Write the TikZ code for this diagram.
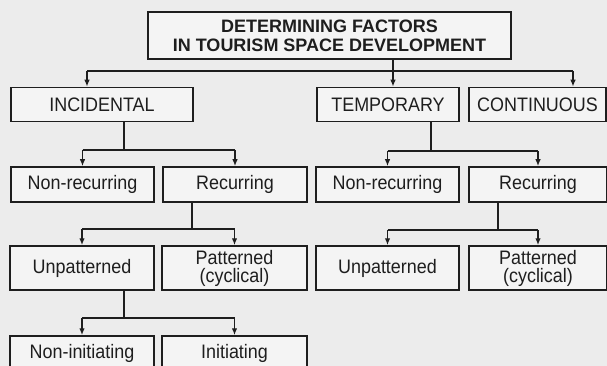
\documentclass[tikz,border=0pt]{standalone}
\usepackage{fontspec}
\setmainfont{Liberation Sans}
\newfontfamily\condfont[FakeStretch=0.92]{Liberation Sans}
\usetikzlibrary{arrows.meta}
\definecolor{bg}{HTML}{ECECEC}
\definecolor{boxfill}{HTML}{F4F4F4}
\definecolor{ink}{HTML}{1E1E1E}
\begin{document}
\begin{tikzpicture}[x=1pt,y=-1pt,
  box/.style={draw=ink, fill=boxfill, line width=1.5pt, inner sep=0pt, text=ink,
    font=\condfont\fontsize{19.5}{18}\selectfont, align=center},
  topbox/.style={box, font=\bfseries\fontsize{18}{19}\selectfont},
  conn/.style={draw=ink, line width=1.5pt},
  arr/.style={conn, -{Latex[length=7pt,width=5.5pt]}}]
\useasboundingbox (0,0) rectangle (607,366);
\fill[bg] (0,0) rectangle (607,366);

% top
\node[topbox, minimum width=363pt, minimum height=47pt] (top) at (329.5,35.5)
  {DETERMINING FACTORS\\IN TOURISM SPACE DEVELOPMENT};

% row 1
\node[box, minimum width=182pt, minimum height=34pt] (inc) at (102,104.5) {INCIDENTAL};
\node[box, minimum width=142pt, minimum height=34pt] (tmp) at (388,104.5) {TEMPORARY};
\node[box, minimum width=137pt, minimum height=34pt] (con) at (537.5,104.5) {CONTINUOUS};

% row 2
\node[box, minimum width=143pt, minimum height=35pt] (nr1) at (82.5,184.5) {Non-recurring};
\node[box, minimum width=144pt, minimum height=35pt] (r1) at (235,184.5) {Recurring};
\node[box, minimum width=143pt, minimum height=35pt] (nr2) at (387.5,184.5) {Non-recurring};
\node[box, minimum width=138pt, minimum height=35pt] (r2) at (538,184.5) {Recurring};

% row 3
\node[box, minimum width=144pt, minimum height=44pt] (up1) at (82,268) {Unpatterned};
\node[box, minimum width=145pt, minimum height=44pt] (pa1) at (234.5,268) {Patterned\\(cyclical)};
\node[box, minimum width=143pt, minimum height=44pt] (up2) at (387.5,268) {Unpatterned};
\node[box, minimum width=138pt, minimum height=44pt] (pa2) at (538,268) {Patterned\\(cyclical)};

% row 4
\node[box, minimum width=144pt, minimum height=35pt] (ni) at (82,353.5) {Non-initiating};
\node[box, minimum width=145pt, minimum height=35pt] (ini) at (234.5,353.5) {Initiating};

% connectors: top -> row 1
\coordinate (t0) at (393,71);
\coordinate (t0L) at (87,71);
\coordinate (t0R) at (573,71);
\draw[conn] (top.south -| t0) -- (t0);
\draw[conn] (t0L) -- (t0R);
\draw[arr] (t0L) -- (t0L |- inc.north);
\draw[arr] (t0) -- (t0 |- tmp.north);
\draw[arr] (t0R) -- (t0R |- con.north);

% incidental -> nr1, r1
\coordinate (i0) at (124,150);
\draw[conn] (inc.south -| i0) -- (i0);
\draw[conn] (i0 -| nr1.north) -- (i0 -| r1.north);
\draw[arr] (i0 -| nr1.north) -- (nr1.north);
\draw[arr] (i0 -| r1.north) -- (r1.north);

% temporary -> nr2, r2
\coordinate (m0) at (431,151);
\draw[conn] (tmp.south -| m0) -- (m0);
\draw[conn] (m0 -| nr2.north) -- (m0 -| r2.north);
\draw[arr] (m0 -| nr2.north) -- (nr2.north);
\draw[arr] (m0 -| r2.north) -- (r2.north);

% recurring (left) -> up1, pa1
\coordinate (r1j) at (192,229);
\draw[conn] (r1.south -| r1j) -- (r1j);
\draw[conn] (r1j -| up1.north) -- (r1j -| pa1.north);
\draw[arr] (r1j -| up1.north) -- (up1.north);
\draw[arr] (r1j -| pa1.north) -- (pa1.north);

% recurring (right) -> up2, pa2
\coordinate (r2j) at (498,230);
\draw[conn] (r2.south -| r2j) -- (r2j);
\draw[conn] (r2j -| up2.north) -- (r2j -| pa2.north);
\draw[arr] (r2j -| up2.north) -- (up2.north);
\draw[arr] (r2j -| pa2.north) -- (pa2.north);

% unpatterned (left) -> ni, ini
\coordinate (u1j) at (124,318);
\draw[conn] (up1.south -| u1j) -- (u1j);
\draw[conn] (u1j -| ni.north) -- (u1j -| ini.north);
\draw[arr] (u1j -| ni.north) -- (ni.north);
\draw[arr] (u1j -| ini.north) -- (ini.north);
\end{tikzpicture}
\end{document}
